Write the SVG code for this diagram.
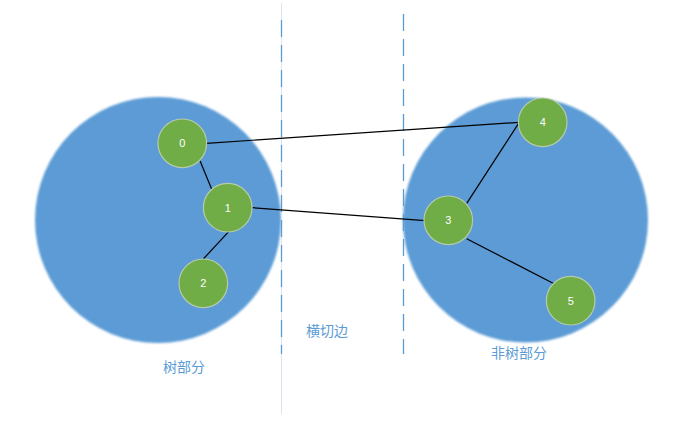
<svg xmlns="http://www.w3.org/2000/svg" width="692" height="426" viewBox="0 0 692 426">
  <style>
    .part { fill: #5B9BD5; filter: url(#soft); }
    .node circle { fill: #70AD47; stroke: #B7CBA8; stroke-width: 1.2; }
    .node text { fill: #FFFFFF; font-family: "Liberation Sans", "Noto Sans", sans-serif; font-size: 11px; text-anchor: middle; dominant-baseline: central; }
    .edge { stroke: #000000; stroke-width: 1.2; fill: none; }
    .dash { stroke: #5B9BD5; stroke-width: 1.3; stroke-dasharray: 17 8; fill: none; }
    .label { fill: #5B9BD5; font-family: "Noto Sans CJK SC", "Noto Sans", sans-serif; font-size: 14px; text-anchor: middle; dominant-baseline: central; }
  </style>
  <defs>
    <filter id="soft" x="-5%" y="-5%" width="110%" height="110%">
      <feGaussianBlur stdDeviation="1"/>
    </filter>
  </defs>
  <rect width="692" height="426" fill="#FFFFFF"/>
  <g id="tree-part">
    <circle class="part" cx="158" cy="220" r="123"/>
  </g>
  <g id="non-tree-part">
    <circle class="part" cx="525.5" cy="220" r="122.5"/>
  </g>
  <g id="separators">
    <line x1="281.5" y1="3" x2="281.5" y2="414" stroke="#DDE3F0" stroke-width="1"/>
    <line class="dash" x1="281.5" y1="20" x2="281.5" y2="354"/>
    <line class="dash" x1="403.5" y1="14" x2="403.5" y2="354"/>
  </g>
  <g id="connectors">
    <line class="edge" x1="206.5" y1="143.3" x2="519.3" y2="122.3"/>
    <line class="edge" x1="466.7" y1="203.3" x2="519.3" y2="122.3"/>
    <line class="edge" x1="252.5" y1="207.7" x2="425" y2="220.7"/>
    <line class="edge" x1="200" y1="160.7" x2="211.7" y2="189.3"/>
    <line class="edge" x1="228.7" y1="231.7" x2="203.3" y2="259"/>
    <line class="edge" x1="466.7" y1="238.7" x2="555" y2="284.3"/>
  </g>
  <g id="node0" class="node"><circle cx="182.3" cy="143.3" r="24.3"/><text x="182.3" y="143.3">0</text></g>
  <g id="node1" class="node"><circle cx="227.7" cy="207.7" r="24.3"/><text x="227.7" y="207.7">1</text></g>
  <g id="node2" class="node"><circle cx="203.3" cy="283.3" r="24.3"/><text x="203.3" y="283.3">2</text></g>
  <g id="node3" class="node"><circle cx="448.3" cy="220.3" r="24.3"/><text x="448.3" y="220.3">3</text></g>
  <g id="node4" class="node"><circle cx="542.7" cy="122.3" r="24.3"/><text x="542.7" y="122.3">4</text></g>
  <g id="node5" class="node"><circle cx="570.7" cy="300.7" r="24.3"/><text x="570.7" y="300.7">5</text></g>
  <g id="labels">
    <text class="label" x="184" y="366">树部分</text>
    <text class="label" x="327" y="330">横切边</text>
    <text class="label" x="519" y="352">非树部分</text>
  </g>
</svg>
